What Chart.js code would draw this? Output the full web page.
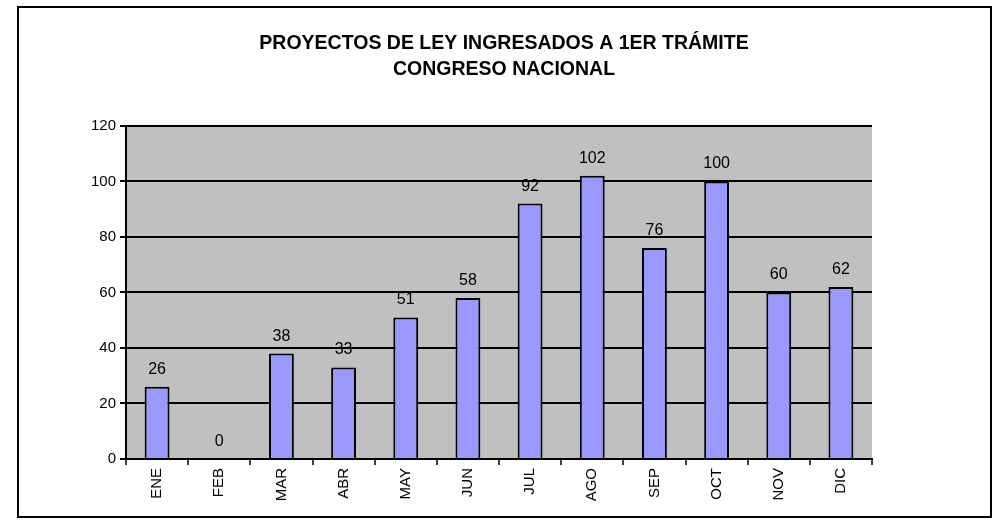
<!DOCTYPE html>
<html>
<head>
<meta charset="utf-8">
<script src="https://cdn.jsdelivr.net/npm/chart.js@4/dist/chart.umd.min.js"></script>
<style>
  html, body { margin: 0; padding: 0; background: #fff; }
  #wrap { width: 997px; height: 520px; }
</style>
</head>
<body>
<div id="wrap"><canvas id="leyes-chart" width="997" height="520"></canvas></div>
<script>
// --- DATA ---
const months = ['ENE', 'FEB', 'MAR', 'ABR', 'MAY', 'JUN', 'JUL', 'AGO', 'SEP', 'OCT', 'NOV', 'DIC'];
const proyectos = [26, 0, 38, 33, 51, 58, 92, 102, 76, 100, 60, 62];
const yTicks = [0, 20, 40, 60, 80, 100, 120];
const titleLines = ['PROYECTOS DE LEY INGRESADOS A 1ER TRÁMITE', 'CONGRESO NACIONAL'];

const FONT = "'Liberation Sans', Arial, sans-serif";

// Gray plot background + outer frame
const framePlugin = {
    id: 'frame',
    beforeDraw(chart) {
        const { ctx, chartArea: a } = chart;
        ctx.save();
        ctx.fillStyle = '#C0C0C0';
        ctx.fillRect(a.left, a.top, a.right - a.left, a.bottom - a.top);
        ctx.restore();
    },
    afterDraw(chart) {
        const ctx = chart.ctx;
        ctx.save();
        ctx.strokeStyle = '#000';
        ctx.lineWidth = 2;
        ctx.strokeRect(18, 7, 973, 510);
        ctx.restore();
    }
};

// Value labels above each bar
const valueLabels = {
    id: 'valueLabels',
    afterDatasetsDraw(chart) {
        const ctx = chart.ctx;
        const meta = chart.getDatasetMeta(0);
        ctx.save();
        ctx.font = '16px ' + FONT;
        ctx.fillStyle = '#000';
        ctx.textAlign = 'center';
        ctx.textBaseline = 'alphabetic';
        meta.data.forEach((bar, i) => {
            ctx.fillText(String(proyectos[i]), bar.x, bar.y - 13);
        });
        ctx.restore();
    }
};

new Chart(document.getElementById('leyes-chart'), {
    type: 'bar',
    data: {
        labels: months,
        datasets: [{
            data: proyectos,
            backgroundColor: '#9999FF',
            borderColor: '#000',
            borderWidth: 2,
            borderSkipped: 'bottom',
            categoryPercentage: 0.4,
            barPercentage: 1.0
        }]
    },
    options: {
        responsive: false,
        animation: false,
        layout: {
            padding: { left: 20, right: 9, top: 0, bottom: 0 }
        },
        plugins: {
            legend: { display: false },
            tooltip: { enabled: false },
            title: {
                display: true,
                text: titleLines,
                color: '#000',
                font: { family: FONT, size: 19.5, weight: 'bold', lineHeight: 1.33 },
                padding: { top: 31, bottom: 43 }
            }
        },
        scales: {
            x: {
                grid: {
                    display: true,
                    drawOnChartArea: false,
                    offset: true,
                    color: '#000',
                    lineWidth: 2,
                    tickLength: 6,
                    tickWidth: 1.5
                },
                border: { color: '#000', width: 2 },
                ticks: {
                    color: '#000',
                    font: { family: FONT, size: 15 },
                    minRotation: 90,
                    maxRotation: 90,
                    padding: 3
                },
                afterFit(scale) { scale.height = 61; }
            },
            y: {
                min: 0,
                max: 120,
                afterBuildTicks(scale) { scale.ticks = yTicks.map(v => ({ value: v })); },
                grid: {
                    color: '#000',
                    lineWidth: 2,
                    tickLength: 6
                },
                border: { color: '#000', width: 2 },
                ticks: {
                    color: '#000',
                    font: { family: FONT, size: 15 },
                    padding: 4
                },
                afterFit(scale) { scale.width = 106; }
            },
            // empty spacer on the right so the title centres on the frame
            spacer: {
                position: 'right',
                min: 0,
                max: 1,
                grid: { display: false },
                border: { display: false },
                ticks: { display: false },
                afterFit(scale) { scale.width = 116; }
            }
        }
    },
    plugins: [framePlugin, valueLabels]
});
</script>
</body>
</html>
